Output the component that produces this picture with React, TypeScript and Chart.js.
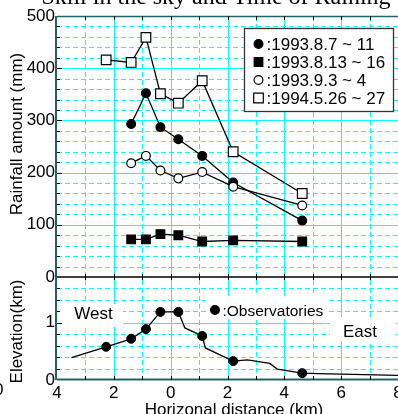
import React, { useEffect, useRef } from 'react';
import { Chart, registerables } from 'chart.js';

Chart.register(...registerables);

// ---------- text ----------
const chartTitle = 'Skill in the sky and Time of Raining';
const xAxisTitle = 'Horizonal distance (km)';
const rainAxisTitle = 'Rainfall amount (mm)';
const elevAxisTitle = 'Elevation(km)';
const westLabel = 'West';
const eastLabel = 'East';
const observatoryLabel = ':Observatories';
const seriesLabels = [':1993.8.7 ~ 11', ':1993.8.13 ~ 16', ':1993.9.3 ~ 4', ':1994.5.26 ~ 27'];

// ---------- data ----------
// observatory positions (km, west negative), elevations (km)
const observatoryX = [-2.27, -1.39, -0.87, -0.36, 0.27, 1.11, 2.2, 4.63];
const observatoryElev = [0.58, 0.72, 0.89, 1.19, 1.19, 0.77, 0.33, 0.12];
// rainfall (mm) at observatories 2..8
const rain1993_8_7 = [293, 352, 287, 264, 232, 181, 108];
const rain1993_8_13 = [72, 72, 82, 80, 68, 70, 68];
const rain1993_9_3 = [218, 232, 204, 189, 201, 173, 137];
// rainfall (mm) at observatories 1..8
const rain1994_5_26 = [416, 411, 459, 351, 333, 376, 240, 160];
// terrain profile
const terrainX = [-3.49, -2.27, -1.39, -0.87, -0.36, 0.27, 0.5, 1.11, 1.22, 2.2, 2.7, 3.49, 3.75, 4.63, 5.19, 8.0];
const terrainElev = [0.39, 0.58, 0.72, 0.89, 1.19, 1.19, 0.91, 0.77, 0.56, 0.33, 0.35, 0.29, 0.19, 0.12, 0.11, 0.08];

const SANS = '"Liberation Sans", Arial, sans-serif';
const SERIF = '"Liberation Serif", "Times New Roman", serif';
const CYAN = '#00ffff';
const AXIS = '#1f6464';

const pts = (xs: number[], ys: number[]) => ys.map((y, i) => ({ x: xs[i], y }));

function drawMarker(ctx: CanvasRenderingContext2D, kind: string, x: number, y: number) {
  ctx.save();
  ctx.setLineDash([]);
  ctx.lineWidth = 1.2;
  ctx.strokeStyle = '#000';
  ctx.beginPath();
  if (kind === 'fc' || kind === 'oc') {
    ctx.arc(x, y, 4.4, 0, Math.PI * 2);
    ctx.fillStyle = kind === 'fc' ? '#000' : '#fff';
  } else {
    const s = kind === 'fs' ? 4.3 : 4.8;
    ctx.rect(x - s, y - s, 2 * s, 2 * s);
    ctx.fillStyle = kind === 'fs' ? '#000' : '#fff';
  }
  ctx.fill();
  ctx.stroke();
  ctx.restore();
}

const gridPlugin = {
  id: 'customGrid',
  beforeDatasetsDraw(chart: any) {
    const ctx: CanvasRenderingContext2D = chart.ctx;
    const xs = chart.scales.x;
    const yR = chart.scales.yR;
    const yE = chart.scales.yE;
    const ca = chart.chartArea;
    ctx.save();
    const line = (x1: number, y1: number, x2: number, y2: number, dashed: boolean) => {
      ctx.setLineDash(dashed ? [5, 3] : []);
      ctx.beginPath();
      ctx.moveTo(x1, y1);
      ctx.lineTo(x2, y2);
      ctx.stroke();
    };
    ctx.strokeStyle = CYAN;
    ctx.lineWidth = 1;
    for (let k = -3; k <= 8; k++) {
      const px = Math.round(xs.getPixelForValue(k)) + 0.5;
      line(px, ca.top, px, ca.bottom, k % 2 !== 0);
    }
    for (let i = 1; i < 25; i++) {
      const v = i * 20;
      const py = Math.round(yR.getPixelForValue(v)) + 0.5;
      line(ca.left, py, ca.right, py, v % 100 !== 0);
    }
    for (let i = 1; i < 9; i++) {
      const py = Math.round(yE.getPixelForValue(i * 0.2)) + 0.5;
      line(ca.left, py, ca.right, py, i !== 5);
    }
    // white label backgrounds
    ctx.setLineDash([]);
    ctx.fillStyle = '#fff';
    ctx.fillRect(59, 304, 64, 23);
    ctx.fillRect(206, 296, 120, 23);
    ctx.fillRect(330, 317, 66, 24);
    // labels
    ctx.fillStyle = '#000';
    ctx.textBaseline = 'alphabetic';
    ctx.font = `17px ${SANS}`;
    ctx.textAlign = 'center';
    ctx.fillText(westLabel, 93.5, 319);
    ctx.fillText(eastLabel, 360, 337);
    drawMarker(ctx, 'fc', 215, 310);
    ctx.font = `15.5px ${SANS}`;
    ctx.textAlign = 'left';
    ctx.fillText(observatoryLabel, 222.5, 315.5);

    // axis lines
    const midY = Math.round(yR.bottom);
    ctx.strokeStyle = AXIS;
    ctx.lineWidth = 1.5;
    line(ca.left, ca.top + 0.5, ca.right, ca.top + 0.5, false);
    ctx.lineWidth = 2;
    line(ca.left, ca.bottom - 0.5, ca.right, ca.bottom - 0.5, false);
    ctx.strokeStyle = '#000';
    ctx.lineWidth = 1.5;
    line(ca.left, midY, ca.right, midY, false);
    ctx.strokeStyle = AXIS;
    ctx.lineWidth = 2;
    line(ca.left - 1, ca.top, ca.left - 1, ca.bottom, false);

    // tick marks
    ctx.strokeStyle = '#000';
    ctx.lineWidth = 1;
    for (let k = -3; k <= 8; k++) {
      const px = Math.round(xs.getPixelForValue(k)) + 0.5;
      line(px, ca.top, px, ca.top + 4, false);
      line(px, midY - 3, px, midY + 3, false);
      line(px, ca.bottom - 4, px, ca.bottom, false);
    }
    for (let i = 1; i < 25; i++) {
      const v = i * 20;
      const py = Math.round(yR.getPixelForValue(v)) + 0.5;
      line(ca.left, py, ca.left + (v % 100 === 0 ? 5 : 3), py, false);
    }
    for (let i = 1; i < 9; i++) {
      const py = Math.round(yE.getPixelForValue(i * 0.2)) + 0.5;
      line(ca.left, py, ca.left + (i === 5 ? 5 : 3), py, false);
    }
    ctx.restore();
  },
  afterDraw(chart: any) {
    const ctx: CanvasRenderingContext2D = chart.ctx;
    ctx.save();
    ctx.setLineDash([]);
    // legend box
    ctx.fillStyle = '#fff';
    ctx.fillRect(244, 28, 149, 83);
    ctx.strokeStyle = '#333';
    ctx.lineWidth = 1.3;
    ctx.strokeRect(244.5, 28.5, 149, 83);
    const kinds = ['fc', 'fs', 'oc', 'os'];
    const rows = [44, 62, 80, 98];
    ctx.font = `17px ${SANS}`;
    ctx.textAlign = 'left';
    ctx.textBaseline = 'alphabetic';
    kinds.forEach((k, i) => {
      drawMarker(ctx, k, 258.5, rows[i]);
      ctx.fillStyle = '#000';
      ctx.fillText(seriesLabels[i], 266.5, rows[i] + 6);
    });
    // title
    ctx.fillStyle = '#000';
    ctx.font = `24px ${SERIF}`;
    ctx.textAlign = 'center';
    ctx.fillText(chartTitle, 216, 4);
    // x axis title
    ctx.font = `17px ${SANS}`;
    ctx.fillText(xAxisTitle, 234, 415);
    // stray label at left edge
    ctx.textAlign = 'right';
    ctx.fillText('0', 3.5, 395);
    // y titles
    ctx.textAlign = 'center';
    ctx.save();
    ctx.translate(21.5, 134);
    ctx.rotate(-Math.PI / 2);
    ctx.fillText(rainAxisTitle, 0, 0);
    ctx.restore();
    ctx.save();
    ctx.translate(21.5, 331.5);
    ctx.rotate(-Math.PI / 2);
    ctx.fillText(elevAxisTitle, 0, 0);
    ctx.restore();
    ctx.restore();
  },
};

export default function App() {
  const ref = useRef<HTMLCanvasElement>(null);
  useEffect(() => {
    if (!ref.current) return;
    const tickFont = { family: SANS, size: 17 };
    const lineDs = (data: any[], kind: string, order: number) => ({
      data,
      yAxisID: 'yR',
      showLine: true,
      borderColor: '#000',
      borderWidth: 1.3,
      pointStyle: kind === 'fc' || kind === 'oc' ? 'circle' : 'rect',
      pointRadius: kind === 'fc' || kind === 'oc' ? 4.4 : kind === 'fs' ? 6.1 : 6.8,
      pointBackgroundColor: kind === 'fc' || kind === 'fs' ? '#000' : '#fff',
      pointBorderColor: '#000',
      pointBorderWidth: 1.2,
      order,
    });
    const chart = new Chart(ref.current, {
      type: 'line',
      data: {
        datasets: [
          lineDs(pts(observatoryX.slice(1), rain1993_8_7), 'fc', 3),
          lineDs(pts(observatoryX.slice(1), rain1993_8_13), 'fs', 4),
          lineDs(pts(observatoryX.slice(1), rain1993_9_3), 'oc', 2),
          lineDs(pts(observatoryX, rain1994_5_26), 'os', 1),
          {
            data: pts(terrainX, terrainElev),
            yAxisID: 'yE',
            borderColor: '#000',
            borderWidth: 1.3,
            pointRadius: 0,
            order: 6,
          } as any,
          {
            data: pts(observatoryX, observatoryElev),
            yAxisID: 'yE',
            showLine: false,
            pointStyle: 'circle',
            pointRadius: 4.5,
            pointBackgroundColor: '#000',
            pointBorderColor: '#000',
            pointBorderWidth: 1,
            order: 5,
          } as any,
        ],
      },
      options: {
        responsive: false,
        animation: false,
        devicePixelRatio: 1,
        events: [],
        layout: { padding: { top: 16, right: 22, bottom: 0, left: 0 } },
        plugins: { legend: { display: false }, tooltip: { enabled: false }, title: { display: false } },
        scales: {
          x: {
            type: 'linear',
            min: -4,
            max: 8,
            ticks: {
              stepSize: 2,
              autoSkip: false,
              maxRotation: 0,
              font: tickFont,
              color: '#000',
              padding: 3,
              callback: (v: any) => String(Math.abs(Number(v))),
            },
            grid: { display: false, drawTicks: false },
            border: { display: false },
            afterFit: (s: any) => { s.height = 34; },
          },
          yE: {
            type: 'linear',
            position: 'left',
            stack: 'panels',
            stackWeight: 103,
            min: 0,
            max: 1.8,
            ticks: {
              stepSize: 1,
              includeBounds: false,
              font: tickFont,
              color: '#000',
              padding: 2,
              callback: (v: any) => (Number(v) === 0 || Number(v) === 1 ? String(v) : ''),
            },
            grid: { display: false, drawTicks: false },
            border: { display: false },
            afterFit: (s: any) => { s.width = 57; },
          },
          yR: {
            type: 'linear',
            position: 'left',
            stack: 'panels',
            stackWeight: 261,
            min: 0,
            max: 500,
            ticks: { stepSize: 100, font: tickFont, color: '#000', padding: 2 },
            grid: { display: false, drawTicks: false },
            border: { display: false },
            afterFit: (s: any) => { s.width = 57; },
          },
        },
      } as any,
      plugins: [gridPlugin],
    });
    return () => chart.destroy();
  }, []);
  return (
    <div style={{ position: 'absolute', left: 0, top: 0, width: 398, height: 414, overflow: 'hidden', background: '#fff' }}>
      <canvas ref={ref} width={420} height={414} style={{ display: 'block' }} />
    </div>
  );
}
